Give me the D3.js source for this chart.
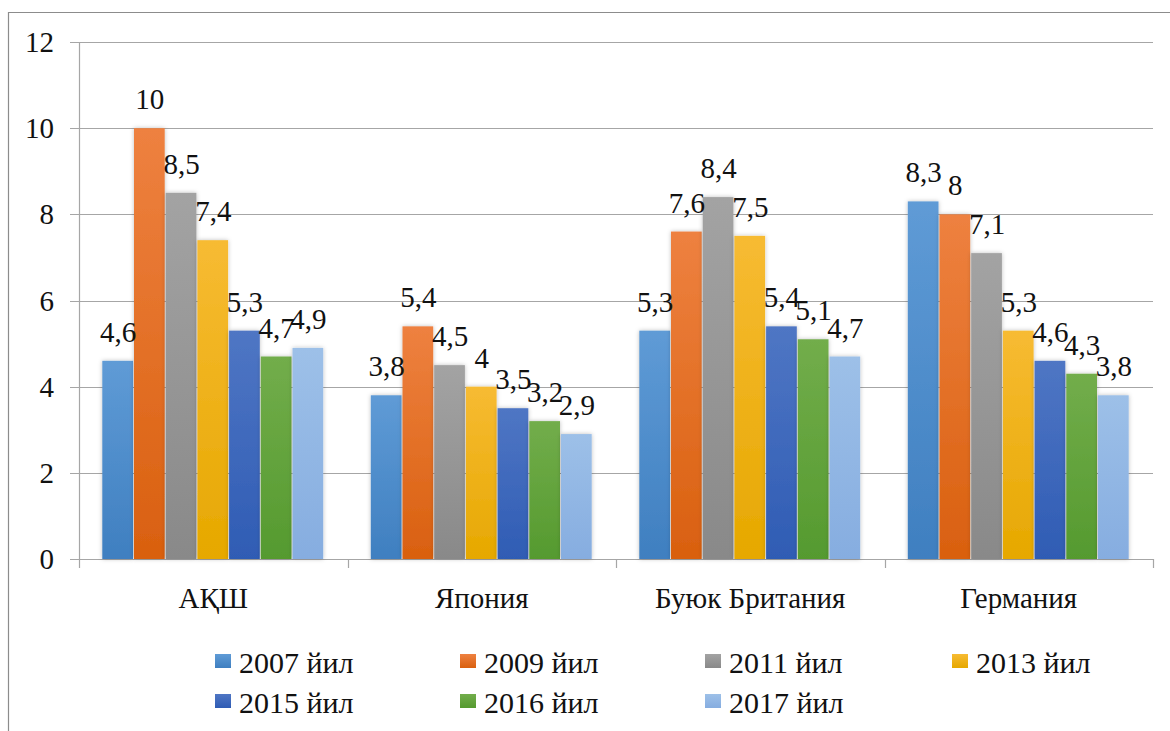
<!DOCTYPE html>
<html><head><meta charset="utf-8"><script src="https://cdn.jsdelivr.net/npm/d3@7"></script>
<style>
  svg text, text { font-family: "Liberation Serif", "Tinos", "FreeSerif" !important; }
</style>
</head>
<body style="margin:0">
<svg id="chart" width="1170" height="731"></svg>
<script>
const categories = ["АҚШ", "Япония", "Буюк Британия", "Германия"];
const seriesNames = ["2007 йил", "2009 йил", "2011 йил", "2013 йил", "2015 йил", "2016 йил", "2017 йил"];
const v2007 = [4.6, 3.8, 5.3, 8.3];
const v2009 = [10, 5.4, 7.6, 8];
const v2011 = [8.5, 4.5, 8.4, 7.1];
const v2013 = [7.4, 4, 7.5, 5.3];
const v2015 = [5.3, 3.5, 5.4, 4.6];
const v2016 = [4.7, 3.2, 5.1, 4.3];
const v2017 = [4.9, 2.9, 4.7, 3.8];
const yTicks = [0, 2, 4, 6, 8, 10, 12];
const colorsTop = ["#5f9bd6", "#ee8140", "#a3a3a3", "#f7bb33", "#4f76c4", "#72ad4b", "#9dc0e8"];
const colorsBot = ["#3f7fc0", "#d9600f", "#898989", "#e6a800", "#2f5cb4", "#559a2f", "#86ade0"];

const seriesValues = [v2007, v2009, v2011, v2013, v2015, v2016, v2017];
const FONT = '"Liberation Serif", "Tinos", "FreeSerif"';

const svg = d3.select("#chart").style("display", "block");
const W = 1170, H = 731;
const plot = { left: 79, right: 1153, top: 42, bottom: 559 };

svg.append("path")
  .attr("d", `M8.5,${H} L8.5,12.5 L${W},12.5`)
  .attr("fill", "none").attr("stroke", "#8c8c8c").attr("stroke-width", 1.2);

const defs = svg.append("defs");
seriesNames.forEach((s, i) => {
  const g = defs.append("linearGradient").attr("id", "grad" + i)
    .attr("x1", 0).attr("y1", 0).attr("x2", 0).attr("y2", 1);
  g.append("stop").attr("offset", "0%").attr("stop-color", colorsTop[i]);
  g.append("stop").attr("offset", "100%").attr("stop-color", colorsBot[i]);
});
const f = defs.append("filter").attr("id", "shadow")
  .attr("x", "-30%").attr("y", "-10%").attr("width", "160%").attr("height", "120%");
f.append("feDropShadow").attr("dx", 0).attr("dy", 0).attr("stdDeviation", 2)
  .attr("flood-color", "#000").attr("flood-opacity", 0.25);

const y = d3.scaleLinear().domain([0, 12]).range([plot.bottom, plot.top]);
const x0 = d3.scaleBand().domain(categories).range([plot.left, plot.right]).paddingInner(0).paddingOuter(0);
const x1 = d3.scaleBand().domain(seriesNames).range([0, x0.bandwidth()]).paddingInner(0).paddingOuter(0.735);

svg.append("g").selectAll("line").data(yTicks).join("line")
  .attr("x1", plot.left - 9).attr("x2", plot.right)
  .attr("y1", d => Math.round(y(d)) + 0.5).attr("y2", d => Math.round(y(d)) + 0.5)
  .attr("stroke", "#a6a6a6").attr("stroke-width", 1.2);

svg.append("line").attr("x1", plot.left + 0.5).attr("x2", plot.left + 0.5)
  .attr("y1", plot.top).attr("y2", plot.bottom).attr("stroke", "#a6a6a6").attr("stroke-width", 1.2);

const bounds = categories.map(c => x0(c)).concat([plot.right]);
svg.append("g").selectAll("line").data(bounds).join("line")
  .attr("x1", d => Math.round(d) + 0.5).attr("x2", d => Math.round(d) + 0.5)
  .attr("y1", plot.bottom).attr("y2", plot.bottom + 9)
  .attr("stroke", "#a6a6a6").attr("stroke-width", 1.2);

const txt = sel => sel.style("font-family", FONT, "important").attr("font-family", "Liberation Serif").attr("fill", "#111");

svg.append("g").selectAll("text").data(yTicks).join("text")
  .attr("x", 54).attr("y", d => y(d) + 10)
  .attr("text-anchor", "end").attr("font-size", 29)
  .call(txt)
  .text(d => d);

const fmt = v => String(v).replace(".", ",");
const groups = svg.append("g").selectAll("g").data(categories).join("g")
  .attr("transform", c => `translate(${x0(c)},0)`);

seriesNames.forEach((s, si) => {
  groups.append("rect")
    .attr("x", (c, ci) => x1(s))
    .attr("y", (c, ci) => y(seriesValues[si][ci]))
    .attr("width", x1.bandwidth() - 1)
    .attr("height", (c, ci) => y(0) - y(seriesValues[si][ci]))
    .attr("fill", `url(#grad${si})`)
    .attr("filter", "url(#shadow)");
});

seriesNames.forEach((s, si) => {
  groups.append("text")
    .attr("x", (c, ci) => x1(s) + x1.bandwidth() / 2)
    .attr("y", (c, ci) => y(seriesValues[si][ci]) - 19)
    .attr("text-anchor", "middle").attr("font-size", 29)
    .call(txt)
    .text((c, ci) => fmt(seriesValues[si][ci]));
});

svg.append("g").selectAll("text").data(categories).join("text")
  .attr("x", c => x0(c) + x0.bandwidth() / 2).attr("y", 608)
  .attr("text-anchor", "middle").attr("font-size", 29)
  .call(txt)
  .text(c => c);

const legCols = [215, 460, 705, 952];
const legRows = [673, 713];
const leg = svg.append("g").selectAll("g").data(seriesNames).join("g")
  .attr("transform", (s, i) => `translate(${legCols[i % 4]},${legRows[Math.floor(i / 4)]})`);
leg.append("rect").attr("x", 0).attr("y", -19).attr("width", 16).attr("height", 14)
  .attr("fill", (s, i) => `url(#grad${i})`);
leg.append("text").attr("x", 24).attr("y", 0).attr("font-size", 30)
  .call(txt)
  .text(s => s);
</script>
</body>
</html>
